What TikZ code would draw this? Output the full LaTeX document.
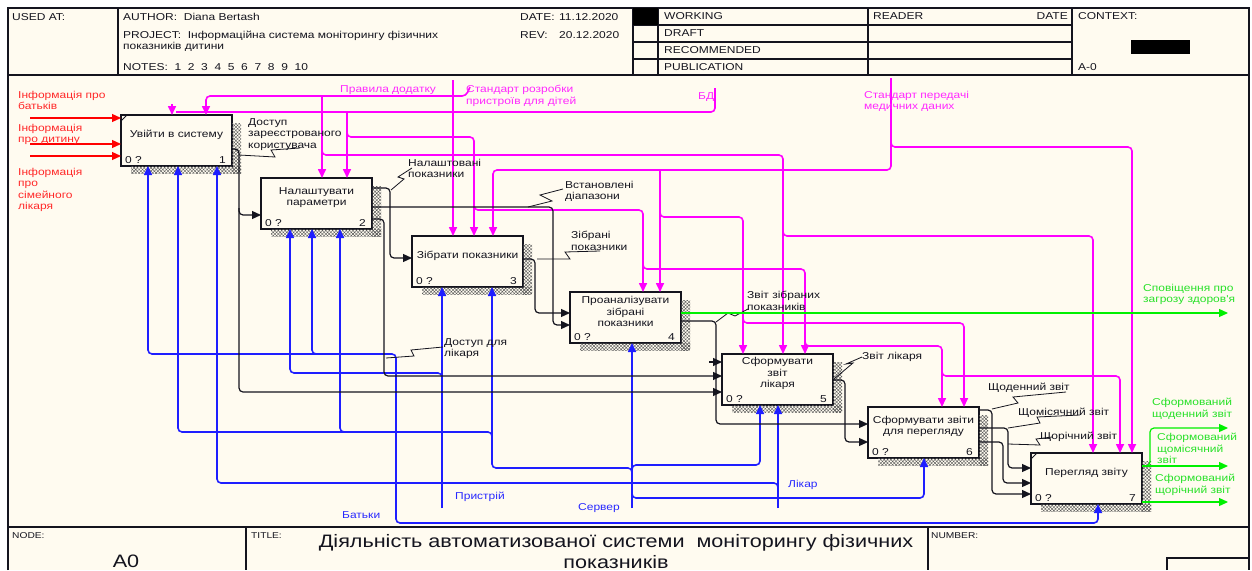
\documentclass[tikz,border=0pt]{standalone}
\usepackage{fontspec}
\setmainfont{Liberation Sans}
\newfontfamily\idf[FakeStretch=1.2]{Liberation Sans}
\usetikzlibrary{arrows.meta,patterns.meta,calc}
\definecolor{cream}{RGB}{255,251,240}
\definecolor{mg}{RGB}{255,0,255}
\definecolor{bl}{RGB}{30,30,255}
\definecolor{rd}{RGB}{255,0,0}
\definecolor{gr}{RGB}{0,240,0}
\definecolor{grt}{RGB}{40,225,40}
\definecolor{rdt}{RGB}{255,40,40}
\definecolor{mgt}{RGB}{255,40,255}
\definecolor{blt}{RGB}{40,40,255}
\definecolor{ink}{RGB}{20,20,30}
\newcommand\boxshadow[1]{%
  \path[hatchs] ($(#1.north east)+(0,8)$) rectangle ($(#1.south east)+(9,7)$);
  \path[hatchs] ($(#1.south west)+(10,0)$) rectangle ($(#1.south east)+(9,7)$);}
\newcommand\idefbox[5]{%
  \node[box] (#1) at (#2,#3) {};
  \node[btext] at ($(#1.north)+(0,19.5)$) {#4};
  \node[anchor=base west,inner sep=0pt,text=ink] at ($(#1.south west)+(4,-3)$) {0 ?};
  \node[anchor=base east,inner sep=0pt,text=ink] at ($(#1.south east)+(-6,-3)$) {#5};
  \boxshadow{#1}}
\begin{document}
\begin{tikzpicture}[x=1pt,y=-1pt,
  font=\idf\fontsize{10}{11.5}\selectfont,
  >={Triangle[length=9pt,width=8pt]},
  frame/.style={draw=ink,line width=1.2pt},
  box/.style={draw=ink,line width=1.1pt,fill=cream,minimum width=111pt,minimum height=51pt,anchor=north west,inner sep=0pt,outer sep=0pt},
  btext/.style={align=center,inner sep=0pt,text=ink},
  hatchs/.style={pattern={Hatch[angle=45,distance=2.4pt,line width=0.4pt]},pattern color=black!65},
  t/.style={anchor=north west,inner sep=0pt,align=left},
  mag/.style={draw=mg,line width=1.6pt,rounded corners=4pt},
  blu/.style={draw=bl,line width=1.6pt,rounded corners=4pt},
  blk/.style={draw=ink,line width=1.2pt,rounded corners=4pt},
  grn/.style={draw=gr,line width=1.2pt,rounded corners=4pt},
  rdl/.style={draw=rd,line width=1.2pt},
  sq/.style={draw=ink,line width=0.8pt},
  small/.style={font=\idf\fontsize{8.5}{10}\selectfont}]
\useasboundingbox (0,0) rectangle (1252,570);
\fill[white] (0,0) rectangle (1252,570);
\fill[cream] (8,8) rectangle (1249,570);
% frame and header
\draw[frame] (8,570) -- (8,8) -- (1249,8) -- (1249,570);
\draw[frame] (8,75) -- (1249,75);
\draw[frame] (8,527) -- (1249,527);
\draw[frame] (118,8) -- (118,75);
\draw[frame] (633,8) -- (633,75);
\draw[frame] (658,8) -- (658,75);
\draw[frame] (868,8) -- (868,75);
\draw[frame] (1072,8) -- (1072,75);
\draw[frame] (633,25) -- (1072,25);
\draw[frame] (633,42) -- (1072,42);
\draw[frame] (633,59) -- (1072,59);
\fill[black] (633,8) rectangle (658,25);
\fill[black] (1131,40) rectangle (1190,54);
\draw[frame] (246,527) -- (246,570);
\draw[frame] (928,527) -- (928,570);
\draw[frame] (1167,570) -- (1167,558) -- (1249,558);
\node[t,text=ink] (hused) at (12,13) {USED AT:};
\node[t,text=ink] (hauth) at (123,13) {AUTHOR:\ \ Diana Bertash};
\node[t,text=ink] (hproj) at (123,31) {PROJECT:\ \ Інформаційна система моніторингу фізичних};
\node[t,text=ink] (hproj2) at (123,42) {показників дитини};
\node[t,text=ink] (hnotes) at (123,63) {NOTES:\ \ 1\ \ 2\ \ 3\ \ 4\ \ 5\ \ 6\ \ 7\ \ 8\ \ 9\ \ 10};
\node[t,text=ink] (hdate) at (520,13) {DATE:};
\node[t,text=ink] (hdatev) at (559,13) {11.12.2020};
\node[t,text=ink] (hrev) at (520,31) {REV:};
\node[t,text=ink] (hrevv) at (559,31) {20.12.2020};
\node[t,text=ink] (hw) at (664,12.5) {WORKING};
\node[t,text=ink] (hd) at (664,29.5) {DRAFT};
\node[t,text=ink] (hr) at (664,46.5) {RECOMMENDED};
\node[t,text=ink] (hp) at (664,63.5) {PUBLICATION};
\node[t,text=ink] (hreader) at (873,12.5) {READER};
\node[anchor=north east,inner sep=0pt,text=ink] (hrdate) at (1068,12.5) {DATE};
\node[t,text=ink] (hctx) at (1078,12.5) {CONTEXT:};
\node[t,text=ink] (ha0) at (1078,63.5) {A-0};
% footer
\node[t,small,text=ink] (fnode) at (12,532) {NODE:};
\node[t,small,text=ink] (ftitle) at (251,532) {TITLE:};
\node[t,small,text=ink] (fnum) at (931,532) {NUMBER:};
\node[inner sep=0pt,text=ink,font=\idf\fontsize{18}{21}\selectfont] (fa0) at (126,561) {A0};
\node[anchor=north,align=center,inner sep=0pt,text=ink,font=\idf\fontsize{18}{21}\selectfont] (ftext) at (616,534) {Діяльність автоматизованої системи\ \ моніторингу фізичних\\показників};
% boxes
\idefbox{b1}{121}{115}{Увійти в систему}{1}
\idefbox{b2}{261}{178}{Налаштувати\\параметри}{2}
\idefbox{b3}{412}{236}{Зібрати показники}{3}
\idefbox{b4}{570}{292}{Проаналізувати\\зібрані\\показники}{4}
\idefbox{b5}{722}{354}{Сформувати\\звіт\\лікаря}{5}
\idefbox{b6}{868}{407}{Сформувати звіти\\для перегляду}{6}
\idefbox{b7}{1031}{453}{Перегляд звіту}{7}
\draw[ink,line width=0.8pt] ($(b1.north west)+(0,6)$) -- ($(b1.north west)+(6,0)$);
\draw[ink,line width=0.8pt] ($(b7.north west)+(0,6)$) -- ($(b7.north west)+(6,0)$);
% red inputs
\draw[rdl,->] (30,118) -- (0,118 -| b1.west);
\draw[rdl,->] (30,144) -- (0,144 -| b1.west);
\draw[rdl,->] (30,156) -- (0,156 -| b1.west);
% magenta controls
\draw[mag,->] (470,87) -- (466,96) -- (206,96) -- (206,0 |- b1.north);
\draw[mag,->] (322,96) -- (322,0 |- b2.north);
\draw[mag,->] (322,140) -- (322,155) -- (783,155) -- (783,0 |- b5.north);
\draw[mag,->] (783,225) -- (783,236) -- (1093,236) -- (1093,0 |- b7.north);
\draw[mag,->] (453,80) -- (453,0 |- b3.north);
\draw[mag] (715,88) -- (715,112) -- (176,112);
\draw[mag,->] (172,104) -- (172,0 |- b1.north);
\draw[mag,->] (347,112) -- (347,0 |- b2.north);
\draw[mag,->] (347,130) -- (347,137) -- (474,137) -- (474,0 |- b3.north);
\draw[mag,->] (474,203) -- (474,210) -- (643,210) -- (643,0 |- b4.north);
\draw[mag,->] (643,262) -- (643,269) -- (805,269) -- (805,0 |- b5.north);
\draw[mag,->] (805,339) -- (805,346) -- (942,346) -- (942,0 |- b6.north);
\draw[mag,->] (942,369) -- (942,376) -- (1120,376) -- (1120,0 |- b7.north);
\draw[mag,->] (891,78) -- (891,170) -- (493,170) -- (493,0 |- b3.north);
\draw[mag,->] (891,140) -- (891,147) -- (1132,147) -- (1132,0 |- b7.north);
\draw[mag,->] (660,170) -- (660,0 |- b4.north);
\draw[mag,->] (660,210) -- (660,217) -- (743,217) -- (743,0 |- b5.north);
\draw[mag,->] (743,316) -- (743,323) -- (964,323) -- (964,0 |- b6.north);
% blue mechanisms
\draw[blu,<->] (148,0 |- b1.south) -- (148,354) -- (396,354) -- (396,523) -- (1098,523) -- (1098,0 |- b7.south);
\draw[blu,<-] (312,0 |- b2.south) -- (312,354) -- (320,354);
\draw[blu,->] (442,508) -- (442,0 |- b3.south);
\draw[blu,->] (442,380) -- (442,373) -- (290,373) -- (290,0 |- b2.south);
\draw[blu,->] (632,508) -- (632,0 |- b4.south);
\draw[blu,->] (632,475) -- (632,468) -- (492,468) -- (492,0 |- b3.south);
\draw[blu,->] (632,472) -- (632,465) -- (760,465) -- (760,0 |- b5.south);
\draw[blu,->] (632,491) -- (632,498) -- (924,498) -- (924,0 |- b6.south);
\draw[blu,<-] (178,0 |- b1.south) -- (178,432) -- (492,432) -- (492,438);
\draw[blu,<-] (340,0 |- b2.south) -- (340,432) -- (348,432);
\draw[blu,->] (778,508) -- (778,0 |- b5.south);
\draw[blu,->] (778,490) -- (778,483) -- (217,483) -- (217,0 |- b1.south);
% black flows
\draw[blk,->] (0,149 -| b1.east) -- (239,149) -- (239,392) -- (0,392 -| b5.west);
\draw[blk,->] (239,208) -- (239,215) -- (0,215 -| b2.west);
\draw[blk,->] (0,188 -| b2.east) -- (390,188) -- (390,258) -- (0,258 -| b3.west);
\draw[blk,->] (0,207 -| b2.east) -- (553,207) -- (553,325) -- (0,325 -| b4.west);
\draw[blk,->] (0,219 -| b2.east) -- (384,219) -- (384,376) -- (0,376 -| b5.west);
\draw[blk,->] (0,259 -| b3.east) -- (535,259) -- (535,313) -- (0,313 -| b4.west);
\draw[blk,->] (0,321 -| b4.east) -- (716,321) -- (716,424) -- (0,424 -| b6.west);
\draw[blk,->] (709,362) -- (0,362 -| b5.west);
\draw[blk,->] (0,380 -| b5.east) -- (845,380) -- (845,442) -- (0,442 -| b6.west);
\draw[blk,->] (0,410 -| b6.east) -- (992,410) -- (992,494) -- (0,494 -| b7.west);
\draw[blk,->] (0,428 -| b6.east) -- (1008,428) -- (1008,468) -- (0,468 -| b7.west);
\draw[blk,->] (0,442 -| b6.east) -- (1003,442) -- (1003,483) -- (0,483 -| b7.west);
% squiggles
\draw[sq] (239,155) -- (275,157) -- (271,150) -- (300,148);
\draw[sq] (391,190) -- (404,179) -- (398,177) -- (412,168);
\draw[sq] (528,207) -- (552,201) -- (540,195) -- (563,189);
\draw[sq] (537,259) -- (570,259) -- (565,252) -- (600,251);
\draw[sq] (386,358) -- (414,356) -- (411,350) -- (443,347);
\draw[sq] (716,322) -- (728,313) -- (735,316) -- (748,309);
\draw[sq] (834,379) -- (853,363) -- (846,364) -- (862,357);
\draw[sq] (992,409) -- (1018,403) -- (1013,397) -- (1066,392);
\draw[sq] (1008,428) -- (1040,423) -- (1037,417) -- (1080,415);
\draw[sq] (1008,444) -- (1040,445) -- (1036,439) -- (1052,437);
% green outputs
\draw[grn,->] (0,313 -| b4.east) -- (1228,313);
\draw[grn,->] (0,466 -| b7.east) -- (1150,466) -- (1150,428) -- (1228,428);
\draw[grn,->] (0,466 -| b7.east) -- (1228,466);
\draw[grn,->] (0,502 -| b7.east) -- (1228,502);
% labels
\node[t,text=rdt] (lr1) at (18,91) {Інформація про\\батьків};
\node[t,text=rdt] (lr2) at (18,124) {Інформація\\про дитину};
\node[t,text=rdt] (lr3) at (18,168) {Інформація\\про\\сімейного\\лікаря};
\node[t,text=mgt] (lm1) at (340,85) {Правила додатку};
\node[t,text=mgt] (lm2) at (466,85) {Стандарт розробки\\пристроїв для дітей};
\node[t,text=mgt] (lm3) at (698,92) {БД};
\node[t,text=mgt] (lm4) at (864,91) {Стандарт передачі\\медичних даних};
\node[t,text=ink] (lk1) at (248,118) {Доступ\\зареєстрованого\\користувача};
\node[t,text=ink] (lk2) at (408,159) {Налаштовані\\показники};
\node[t,text=ink] (lk3) at (565,181) {Встановлені\\діапазони};
\node[t,text=ink] (lk4) at (571,231) {Зібрані\\показники};
\node[t,text=ink] (lk5) at (444,338) {Доступ для\\лікаря};
\node[t,text=ink] (lk6) at (747,291) {Звіт зібраних\\показників};
\node[t,text=ink] (lk7) at (862,352) {Звіт лікаря};
\node[t,text=ink] (lk8) at (988,383) {Щоденний звіт};
\node[t,text=ink] (lk9) at (1018,408) {Щомісячний звіт};
\node[t,text=ink] (lk10) at (1040,432) {Щорічний звіт};
\node[t,text=blt] (lb1) at (342,511) {Батьки};
\node[t,text=blt] (lb2) at (455,492) {Пристрій};
\node[t,text=blt] (lb3) at (578,503) {Сервер};
\node[t,text=blt] (lb4) at (788,480) {Лікар};
\node[t,text=grt] (lg1) at (1143,284) {Сповіщення про\\загрозу здоров'я};
\node[t,text=grt] (lg2) at (1152,398) {Сформований\\щоденний звіт};
\node[t,text=grt] (lg3) at (1157,433) {Сформований\\щомісячний\\звіт};
\node[t,text=grt] (lg4) at (1155,474) {Сформований\\щорічний звіт};
\end{tikzpicture}
\end{document}
